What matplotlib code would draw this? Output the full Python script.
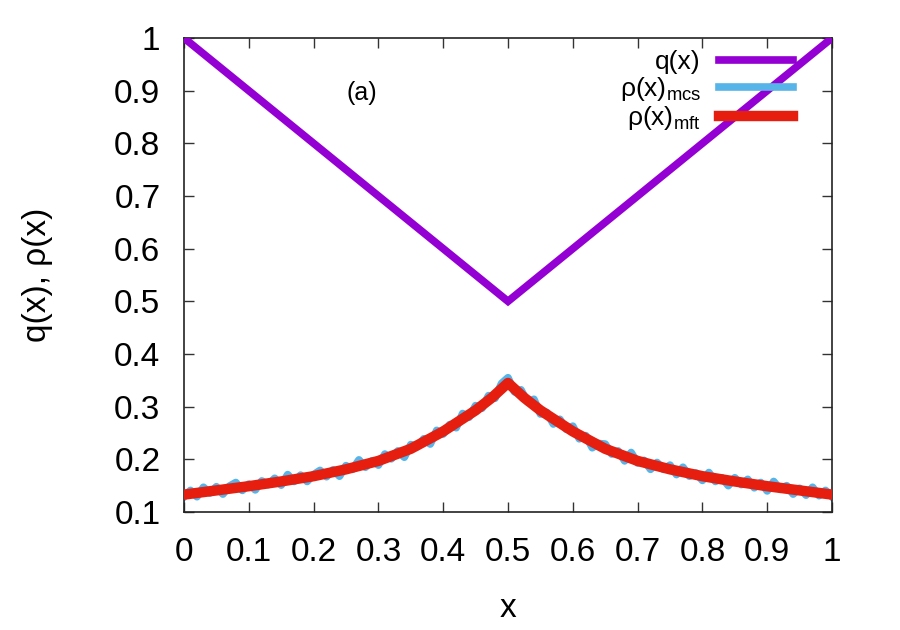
import matplotlib
matplotlib.use("Agg")
import matplotlib.pyplot as plt

plt.rcParams['font.family'] = ['Liberation Sans', 'DejaVu Sans']
plt.rcParams['mathtext.fontset'] = 'custom'
plt.rcParams['mathtext.rm'] = 'Liberation Sans'
plt.rcParams['mathtext.it'] = 'Liberation Sans'

# ---- data ----
q_x = [0.0, 0.5, 1.0]
q_vals = [1.0, 0.5, 1.0]

mft_x = [0.0, 0.05, 0.1, 0.15, 0.2, 0.25, 0.3, 0.35, 0.4, 0.45, 0.475, 0.5,
         0.525, 0.55, 0.6, 0.65, 0.7, 0.75, 0.8, 0.85, 0.9, 0.95, 1.0]
mft_vals = [0.133, 0.141, 0.149, 0.158, 0.168, 0.181, 0.197, 0.220, 0.253, 0.293, 0.317, 0.345,
            0.317, 0.293, 0.253, 0.220, 0.197, 0.181, 0.168, 0.158, 0.149, 0.141, 0.133]

mcs_x = [i / 100 for i in range(101)]
mcs_vals = [0.129, 0.141, 0.129, 0.147, 0.136, 0.148, 0.134, 0.149, 0.156, 0.141,
            0.153, 0.142, 0.159, 0.152, 0.164, 0.151, 0.171, 0.158, 0.170, 0.158,
            0.171, 0.179, 0.167, 0.180, 0.168, 0.188, 0.181, 0.199, 0.185, 0.197,
            0.189, 0.210, 0.201, 0.216, 0.204, 0.228, 0.224, 0.239, 0.229, 0.255,
            0.248, 0.266, 0.260, 0.287, 0.280, 0.302, 0.297, 0.321, 0.316, 0.344,
            0.355,
            0.328, 0.332, 0.309, 0.314, 0.286, 0.289, 0.267, 0.276, 0.257, 0.263,
            0.239, 0.245, 0.222, 0.230, 0.229, 0.210, 0.216, 0.197, 0.213, 0.193,
            0.198, 0.181, 0.194, 0.181, 0.189, 0.171, 0.185, 0.168, 0.174, 0.160,
            0.175, 0.158, 0.165, 0.150, 0.165, 0.152, 0.162, 0.146, 0.156, 0.140,
            0.158, 0.143, 0.150, 0.134, 0.145, 0.132, 0.147, 0.131, 0.141, 0.129]

x_ticks = [0, 0.1, 0.2, 0.3, 0.4, 0.5, 0.6, 0.7, 0.8, 0.9, 1]
x_labels = ['0', '0.1', '0.2', '0.3', '0.4', '0.5', '0.6', '0.7', '0.8', '0.9', '1']
y_ticks = [0.1, 0.2, 0.3, 0.4, 0.5, 0.6, 0.7, 0.8, 0.9, 1]
y_labels = ['0.1', '0.2', '0.3', '0.4', '0.5', '0.6', '0.7', '0.8', '0.9', '1']

labels = ['q(x)', r'ρ(x)$_{\mathregular{mcs}}$', r'ρ(x)$_{\mathregular{mft}}$']

# ---- figure ----
fig = plt.figure(figsize=(9, 6.3), dpi=100)
ax = fig.add_axes([184/900, 1 - 512/630, (832-184)/900, (512-38)/630])

ax.plot(q_x, q_vals, color='#9400D3', lw=5.5, label=labels[0], solid_joinstyle='miter', zorder=3)
ax.plot(mcs_x, mcs_vals, color='#56B4E9', lw=5.5, label=labels[1], zorder=2)
ax.plot(mft_x, mft_vals, color='#E51E10', lw=7.5, label=labels[2], zorder=4)

ax.set_xlim(0, 1)
ax.set_ylim(0.1, 1)
ax.set_xticks(x_ticks)
ax.set_xticklabels(x_labels)
ax.set_yticks(y_ticks)
ax.set_yticklabels(y_labels)
ax.tick_params(direction='in', length=7, width=1, top=True, right=True,
               labelsize=24, color='#333333')
ax.tick_params(axis='x', pad=18)
ax.tick_params(axis='y', pad=17)
for s in ax.spines.values():
    s.set_linewidth(1.2)
    s.set_color('#222222')

ax.set_xlabel('x', fontsize=24, labelpad=18)
ax.set_ylabel('q(x), ρ(x)', fontsize=24, labelpad=44)

ax.text(0.275, 0.896, '(a)', fontsize=18, ha='center', va='center')

leg = ax.legend(loc='upper right', bbox_to_anchor=(0.94, 0.975), frameon=False,
                markerfirst=False, fontsize=19, handlelength=2.8, handletextpad=0.7,
                labelspacing=0.05, borderpad=0, borderaxespad=0)
for t in leg.get_texts():
    t.set_ha('right')

fig.savefig('out.png', dpi=100)
